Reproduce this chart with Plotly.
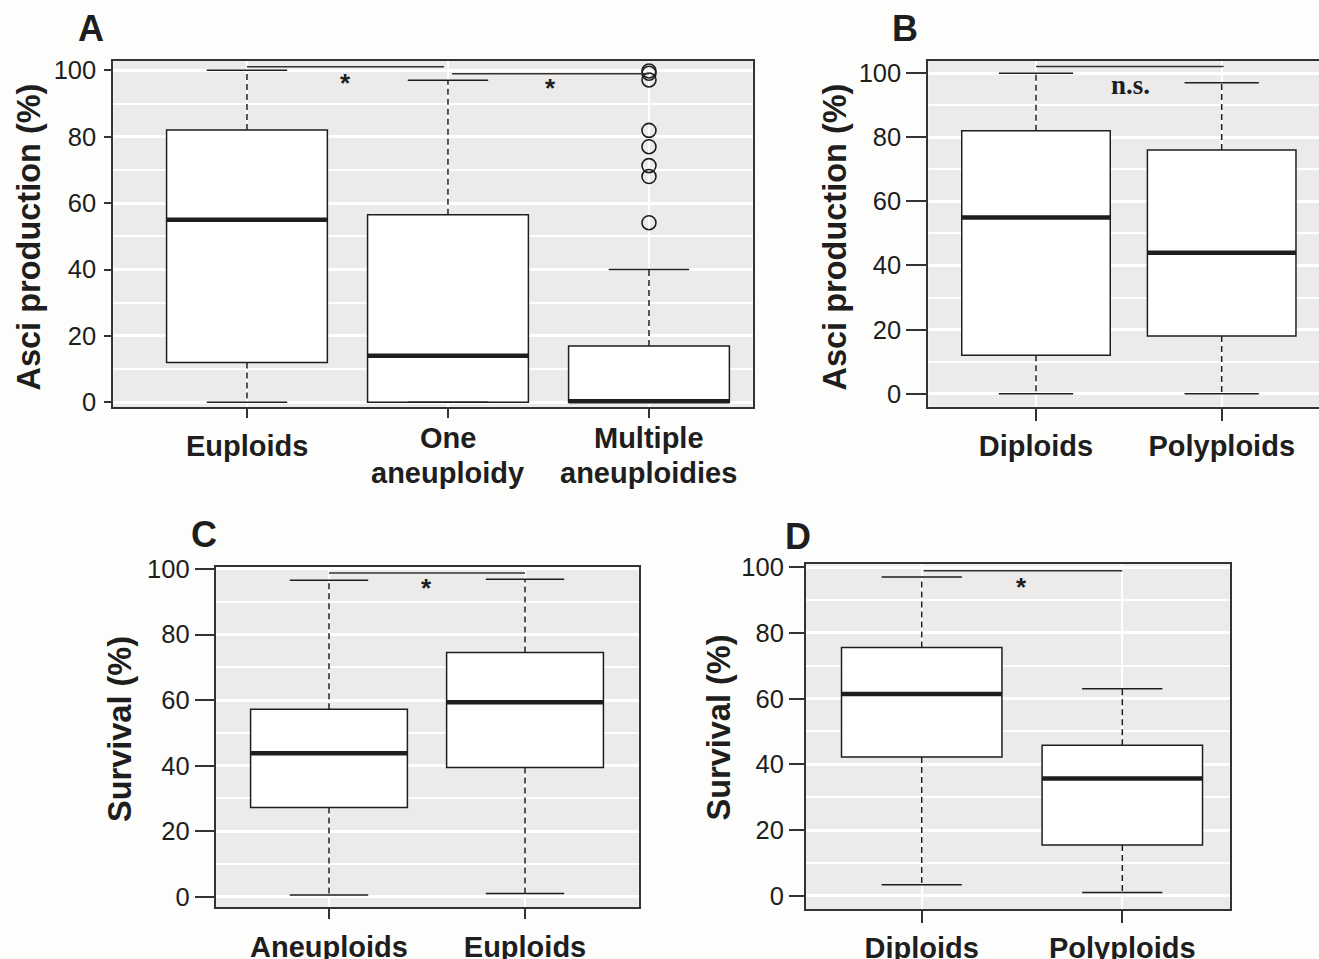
import plotly.graph_objects as go

W, H = 1319, 959
INK = '#1e1e1e'
FRAME = '#333333'
SANS = 'Arial, Liberation Sans'

# ---- data ----
A_cats = ['Euploids', 'One<br>aneuploidy', 'Multiple<br>aneuploidies']
A_q1 = [12.0, 0.0, 0.0]
A_med = [55.0, 14.0, 0.3]
A_q3 = [82.0, 56.5, 17.0]
A_lo = [0.0, 0.0, 0.0]
A_hi = [100.0, 97.0, 40.0]
A_outliers = [99.8, 99.1, 97.1, 81.9, 77.0, 71.3, 68.0, 54.1]   # Multiple aneuploidies

B_cats = ['Diploids', 'Polyploids']
B_q1 = [12.0, 18.0]
B_med = [55.0, 44.0]
B_q3 = [82.0, 76.0]
B_lo = [0.0, 0.0]
B_hi = [100.0, 97.0]

C_cats = ['Aneuploids', 'Euploids']
C_q1 = [27.2, 39.4]
C_med = [43.8, 59.3]
C_q3 = [57.2, 74.5]
C_lo = [0.5, 1.0]
C_hi = [96.6, 96.9]

D_cats = ['Diploids', 'Polyploids']
D_q1 = [42.2, 15.4]
D_med = [61.4, 35.7]
D_q3 = [75.6, 45.8]
D_lo = [3.3, 1.0]
D_hi = [97.0, 63.0]

Y_TICKS = [0, 20, 40, 60, 80, 100]
Y_MINOR = [10, 30, 50, 70, 90]


def px(x): return x / W
def py(y): return 1 - y / H


fig = go.Figure()


def add_panel(i, cats, q1, med, q3, lo, hi, xdom, ydom, xr, yr, ylen, xlen,
              xstand=0, ystand=0, show_xlabels=True):
    xa, ya = ('x', 'y') if i == 1 else (f'x{i}', f'y{i}')
    pos = list(range(1, len(cats) + 1))
    fig.add_trace(go.Box(x=pos, q1=q1, median=med, q3=q3, lowerfence=q1, upperfence=q3,
                         width=0.8, whiskerwidth=0, fillcolor='white', boxpoints=False,
                         line=dict(color=INK, width=1.5), xaxis=xa, yaxis=ya,
                         showlegend=False, hoverinfo='skip'))
    wx, wy, cx, cy, mx, my = [], [], [], [], [], []
    for p, a, b, c, d, m in zip(pos, q1, q3, lo, hi, med):
        wx += [p, p, None, p, p, None]; wy += [b, d, None, a, c, None]
        cx += [p - 0.2, p + 0.2, None, p - 0.2, p + 0.2, None]; cy += [d, d, None, c, c, None]
        mx += [p - 0.4, p + 0.4, None]; my += [m, m, None]
    fig.add_trace(go.Scatter(x=wx, y=wy, mode='lines', line=dict(color=INK, width=1.5, dash='6px,4px'),
                             xaxis=xa, yaxis=ya, showlegend=False, hoverinfo='skip'))
    fig.add_trace(go.Scatter(x=cx, y=cy, mode='lines', line=dict(color=INK, width=1.5),
                             xaxis=xa, yaxis=ya, showlegend=False, hoverinfo='skip'))
    fig.add_trace(go.Scatter(x=mx, y=my, mode='lines', line=dict(color=INK, width=4.5),
                             xaxis=xa, yaxis=ya, showlegend=False, hoverinfo='skip'))
    key = '' if i == 1 else str(i)
    common = dict(showline=True, mirror=True, linecolor=FRAME, linewidth=2, zeroline=False,
                  automargin=False, ticks='outside', tickwidth=2, tickcolor=FRAME, gridcolor='white')
    fig.layout['xaxis' + key] = dict(common, domain=[px(xdom[0]), px(xdom[1])], range=xr,
                                     anchor=ya, tickvals=pos, ticktext=cats, ticklen=xlen,
                                     showticklabels=show_xlabels, ticklabelstandoff=xstand,
                                     gridwidth=2, showgrid=True,
                                     tickfont=dict(family=SANS, size=29, color=INK, weight='bold'))
    fig.layout['yaxis' + key] = dict(common, domain=[py(ydom[1]), py(ydom[0])], range=yr,
                                     anchor=xa, tickvals=Y_TICKS, ticklen=ylen, gridwidth=3,
                                     showgrid=True, ticklabelstandoff=ystand,
                                     minor=dict(tickvals=Y_MINOR, showgrid=True, gridcolor='white',
                                                gridwidth=2, ticklen=0),
                                     tickfont=dict(family=SANS, size=25.5, color=INK))
    return xa, ya, pos


xa, ya, posA = add_panel(1, A_cats, A_q1, A_med, A_q3, A_lo, A_hi, (113.3, 752.7), (60.7, 407.3),
                         [0.335, 3.516], [-1.5, 102.9], 7, 9, ystand=3, show_xlabels=False)
fig.add_trace(go.Scatter(x=[posA[-1]] * len(A_outliers), y=A_outliers, mode='markers',
                         marker=dict(symbol='circle-open', size=14, color=INK, line=dict(width=1.6)),
                         xaxis=xa, yaxis=ya, showlegend=False, hoverinfo='skip'))
# panel A category labels, one annotation per text line
line_y = [445.5, 472.5]
for p, lab in zip(posA, A_cats):
    parts = lab.split('<br>')
    ys = [445.5] if len(parts) == 1 else [438, 472.5]
    for part, yy in zip(parts, ys):
        fig.add_annotation(x=p, y=py(yy), xref='x', yref='paper', text=part, showarrow=False,
                           xanchor='center', yanchor='middle',
                           font=dict(family=SANS, size=29, color=INK, weight='bold'))

add_panel(2, B_cats, B_q1, B_med, B_q3, B_lo, B_hi, (928.3, 1319), (61, 406.7),
          [0.42, 2.524], [-4.06, 103.8], 20, 12)
add_panel(3, C_cats, C_q1, C_med, C_q3, C_lo, C_hi, (215.7, 638.7), (566.7, 907.3),
          [0.422, 2.58], [-3.24, 100.7], 19, 10, xstand=3)
add_panel(4, D_cats, D_q1, D_med, D_q3, D_lo, D_hi, (806, 1230), (564.3, 909.3),
          [0.423, 2.537], [-4.14, 100.9], 15, 12)

# significance brackets: (x-axis, y-axis, x0, x1, level)
sig_lines = [('x', 'y', 1.0, 1.98, 101.1), ('x', 'y', 2.02, 3.0, 99.0),
             ('x2', 'y2', 1.0, 2.01, 102.1), ('x3', 'y3', 1.0, 2.0, 98.8),
             ('x4', 'y4', 1.01, 2.0, 98.9)]
for xa_, ya_, x0, x1, lvl in sig_lines:
    fig.add_trace(go.Scatter(x=[x0, x1], y=[lvl, lvl], mode='lines', line=dict(color=FRAME, width=1.5),
                             xaxis=xa_, yaxis=ya_, showlegend=False, hoverinfo='skip'))

sig_text = [('x', 'y', 1.49, 96.1, '*'), ('x', 'y', 2.51, 94.6, '*'),
            ('x3', 'y3', 1.495, 94.1, '*'), ('x4', 'y4', 1.498, 94.1, '*')]
for xa_, ya_, x, y, t in sig_text:
    fig.add_annotation(x=x, y=y, xref=xa_, yref=ya_, text=t, showarrow=False,
                       xanchor='center', yanchor='middle',
                       font=dict(family=SANS, size=26, color=INK, weight='bold'))
fig.add_annotation(x=1.51, y=96.3, xref='x2', yref='y2', text='n.s.', showarrow=False,
                   xanchor='center', yanchor='middle',
                   font=dict(family='Times New Roman, Liberation Serif', size=27, color=INK, weight='bold'))

for t, x, y in [('A', 90.7, 28.3), ('B', 904.7, 29), ('C', 203.7, 534.5), ('D', 798, 536)]:
    fig.add_annotation(x=px(x), y=py(y), xref='paper', yref='paper', text=t, showarrow=False,
                       xanchor='center', yanchor='middle',
                       font=dict(family=SANS, size=36, color=INK, weight='bold'))

for t, x, y in [('Asci production (%)', 29, 237.5), ('Asci production (%)', 835, 237.5),
                ('Survival (%)', 120, 729), ('Survival (%)', 718, 727.5)]:
    fig.add_annotation(x=px(x), y=py(y), xref='paper', yref='paper', text=t, showarrow=False,
                       textangle=-90, xanchor='center', yanchor='middle',
                       font=dict(family=SANS, size=32.5, color=INK, weight='bold'))

fig.update_layout(width=W, height=H, margin=dict(l=0, r=0, t=0, b=0, autoexpand=False),
                  paper_bgcolor='#fdfdfb', plot_bgcolor='#ecebea')
fig.write_html("out.html", config={'displayModeBar': False},
               post_script="document.body.style.margin='0';")
